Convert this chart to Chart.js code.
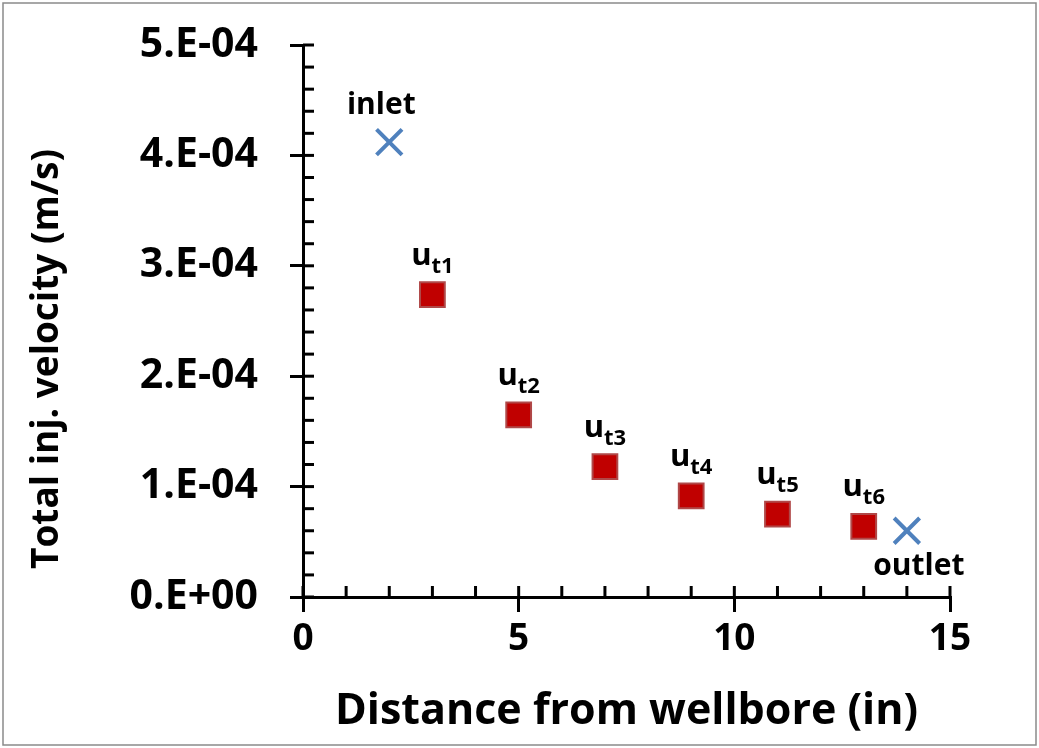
<!DOCTYPE html>
<html>
<head>
<meta charset="utf-8">
<script src="https://cdn.jsdelivr.net/npm/chart.js@4/dist/chart.umd.min.js"></script>
<style>
  html, body { margin: 0; padding: 0; background: #fff; }
  #wrap { width: 1039px; height: 748px; position: relative; }
</style>
</head>
<body>
<div id="wrap"><canvas id="chart"></canvas></div>
<script>
// datos
const distances = [3, 5, 7, 9, 11, 13];
const velocities = [2.74e-4, 1.65e-4, 1.18e-4, 0.915e-4, 0.75e-4, 0.64e-4];
const velocitySubs = ['t1', 't2', 't3', 't4', 't5', 't6'];
const boundaryDistances = [2, 14];
const boundaryVelocities = [4.12e-4, 0.60e-4];
const boundaryLabels = ['inlet', 'outlet'];
const xTickLabels = ['0', '5', '10', '15'];
const yTickLabels = ['0.E+00', '1.E-04', '2.E-04', '3.E-04', '4.E-04', '5.E-04'];
const yTitle = 'Total inj. velocity (m/s)';
const xTitle = 'Distance from wellbore (in)';

const FONT = "'Open Sans', sans-serif";
Chart.defaults.font.family = FONT;
Chart.defaults.font.weight = 'bold';
Chart.defaults.color = '#000';

// desplazamiento de las etiquetas de inlet/outlet respecto al punto
const boundaryOffsets = [[-8, -28], [12, 44]];

const frameAndTicks = {
    id: 'frameAndTicks',
    beforeDraw(chart) {
        const ctx = chart.ctx;
        ctx.save();
        ctx.strokeStyle = '#8a8a8a';
        ctx.lineWidth = 1.5;
        ctx.strokeRect(3, 3, chart.width - 6, chart.height - 6);
        ctx.restore();
    },
    afterDatasetsDraw(chart) {
        const ctx = chart.ctx;
        const x = chart.scales.x, y = chart.scales.y;
        ctx.save();
        ctx.strokeStyle = '#000';
        ctx.lineWidth = 3;
        // marcas menores del eje x (hacia dentro)
        for (let v = 0; v <= 15; v++) {
            const px = x.getPixelForValue(v);
            ctx.beginPath();
            ctx.moveTo(px, y.bottom);
            ctx.lineTo(px, y.bottom - 11);
            ctx.stroke();
        }
        // marcas menores del eje y
        for (let i = 0; i <= 25; i++) {
            const py = y.getPixelForValue(i * 2e-5);
            ctx.beginPath();
            ctx.moveTo(x.left, py);
            ctx.lineTo(x.left + 11, py);
            ctx.stroke();
        }
        ctx.restore();

        // titulo del eje y (dibujado a mano para centrarlo como el original)
        ctx.save();
        ctx.translate(47, (y.top + y.bottom) / 2 + 38);
        ctx.rotate(-Math.PI / 2);
        ctx.font = 'bold 37px ' + FONT;
        ctx.fillStyle = '#000';
        ctx.textAlign = 'center';
        ctx.textBaseline = 'middle';
        ctx.fillText(yTitle, 0, 0);
        ctx.restore();

        // etiquetas de puntos
        ctx.save();
        ctx.fillStyle = '#000';
        ctx.textBaseline = 'alphabetic';
        const sq = chart.getDatasetMeta(0).data;
        sq.forEach((pt, i) => {
            ctx.font = 'bold 31px ' + FONT;
            const wMain = ctx.measureText('u').width;
            ctx.font = 'bold 22px ' + FONT;
            const wSub = ctx.measureText(velocitySubs[i]).width;
            const left = pt.x - (wMain + wSub) / 2;
            const base = pt.y - 30;
            ctx.font = 'bold 31px ' + FONT;
            ctx.textAlign = 'left';
            ctx.fillText('u', left, base);
            ctx.font = 'bold 22px ' + FONT;
            ctx.fillText(velocitySubs[i], left + wMain, base + 8);
        });
        const bd = chart.getDatasetMeta(1).data;
        bd.forEach((pt, i) => {
            ctx.font = 'bold 30px ' + FONT;
            ctx.textAlign = 'center';
            ctx.fillText(boundaryLabels[i], pt.x + boundaryOffsets[i][0], pt.y + boundaryOffsets[i][1]);
        });
        ctx.restore();
    }
};

new Chart(document.getElementById('chart'), {
    type: 'scatter',
    data: {
        datasets: [{
            data: distances.map((d, i) => ({ x: d, y: velocities[i] })),
            pointStyle: 'rect',
            pointRadius: 17.5,
            pointHoverRadius: 17.5,
            backgroundColor: '#C00000',
            borderColor: '#B04848',
            borderWidth: 2
        }, {
            data: boundaryDistances.map((d, i) => ({ x: d, y: boundaryVelocities[i] })),
            pointStyle: 'crossRot',
            pointRadius: 18,
            pointHoverRadius: 18,
            borderColor: '#4F81BD',
            backgroundColor: '#4F81BD',
            borderWidth: 4
        }]
    },
    options: {
        responsive: true,
        maintainAspectRatio: false,
        animation: false,
        layout: { padding: { top: 45, right: 89, left: 0, bottom: 0 } },
        plugins: { legend: { display: false }, tooltip: { enabled: false } },
        scales: {
            x: {
                type: 'linear',
                min: 0, max: 15,
                afterFit(scale) {
                    scale.height = 151;
                    scale.paddingLeft = 0;
                    scale.paddingRight = 0;
                },
                ticks: {
                    stepSize: 5,
                    padding: 5,
                    font: { size: 37, weight: 'bold' },
                    callback: (v, i) => xTickLabels[i]
                },
                grid: { drawOnChartArea: false, color: '#000', lineWidth: 3, tickLength: 15 },
                border: { color: '#000', width: 3 },
                title: {
                    display: true,
                    text: xTitle,
                    font: { size: 43, weight: 'bold' },
                    padding: { top: 0, bottom: 10 }
                }
            },
            y: {
                type: 'linear',
                min: 0, max: 5e-4,
                afterFit(scale) {
                    scale.width = 303;
                    scale.paddingTop = 0;
                    scale.paddingBottom = 0;
                },
                ticks: {
                    stepSize: 1e-4,
                    padding: 32,
                    font: { size: 41, weight: 'bold' },
                    callback: (v, i) => yTickLabels[i]
                },
                grid: { drawOnChartArea: false, color: '#000', lineWidth: 3, tickLength: 13 },
                border: { color: '#000', width: 3 },
                title: { display: false }
            }
        }
    },
    plugins: [frameAndTicks]
});
</script>
</body>
</html>
